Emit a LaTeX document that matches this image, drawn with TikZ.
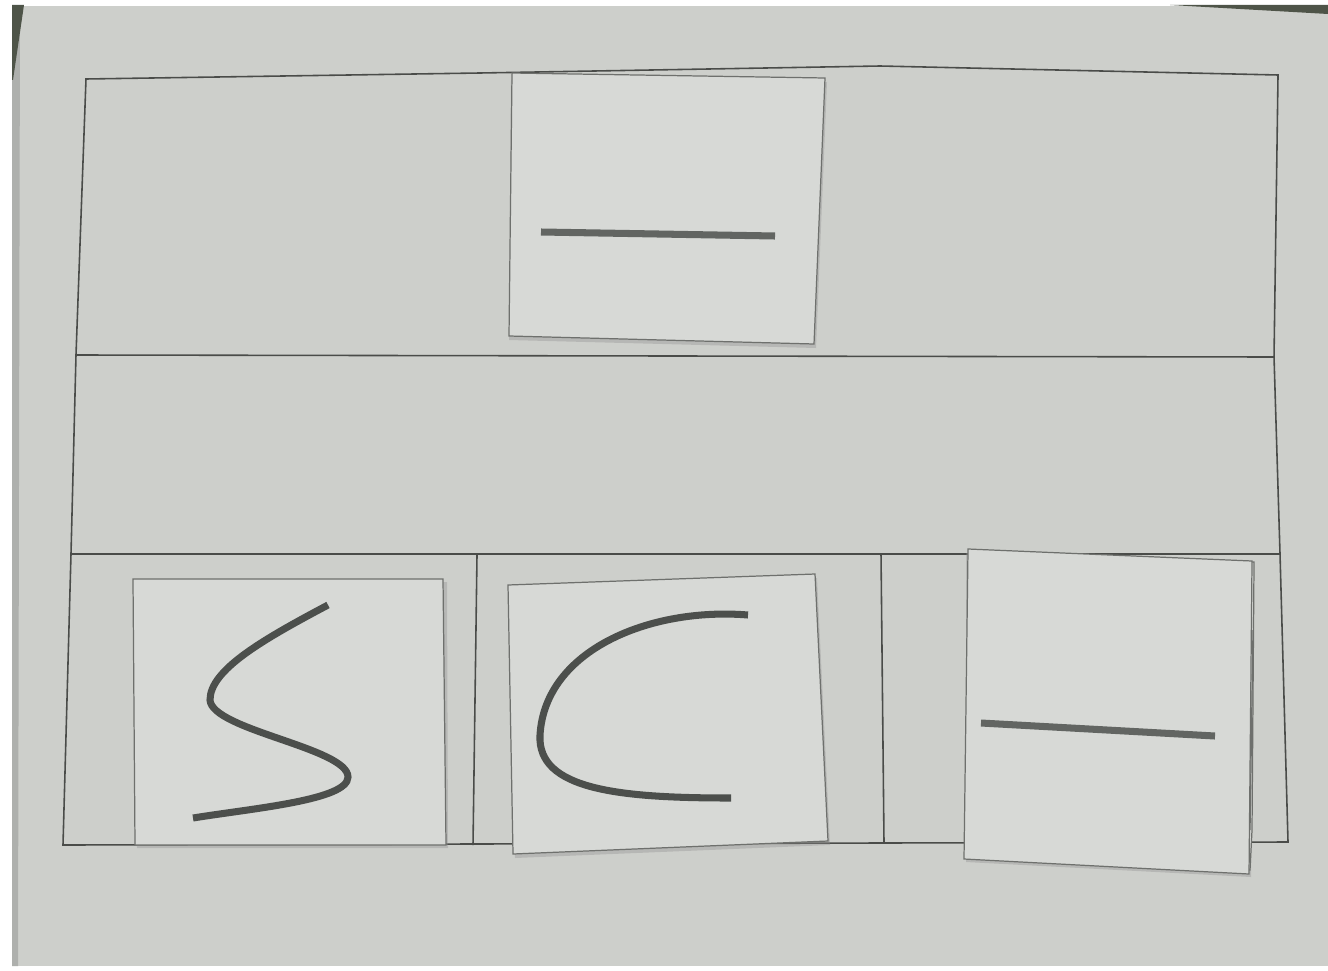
\documentclass[tikz,border=0pt]{standalone}
\usetikzlibrary{calc}
\definecolor{paper}{HTML}{CDCFCB}
\definecolor{cardpaper}{HTML}{D7D9D6}
\definecolor{ink}{HTML}{4A4C49}
\definecolor{marker}{HTML}{4C4F4C}
\definecolor{markerflat}{HTML}{626562}
\definecolor{desk}{HTML}{4E5448}
\tikzset{
  gridline/.style={line width=0.45pt, ink},
  card/.style={fill=cardpaper, draw=ink!80, line width=0.35pt},
  shadow/.style={fill=black!45, opacity=0.35},
  stroke/.style={line width=2pt, marker, line cap=butt},
}

\begin{document}
\begin{tikzpicture}[x=0.01cm, y=-0.01cm]
  \useasboundingbox (0,0) rectangle (1328,970);
  \fill[white] (0,0) rectangle (1328,970);

  % Desk and paper
  \fill[paper] (12,6) -- (1328,6) -- (1328,966) -- (12,966) -- cycle;
  \fill[paper!85!black] (12,6) -- (20,6) -- (18,966) -- (12,966) -- cycle;
  \fill[desk] (12,5) -- (24,5) -- (13,80) -- (12,80) -- cycle;
  \fill[desk] (1170,5) -- (1328,5) -- (1328,14) -- cycle;

  % Outer frame
  \draw[gridline] (86,79) -- (480,73) -- (880,66) -- (1278,75) -- (1274,357)
    -- (1280,554) -- (1288,842) -- (63,845) -- (71,554) -- (76,355) -- cycle;
  % Rows
  \draw[gridline] (76,355) -- (1274,357);
  \draw[gridline] (71,554) -- (1280,554);
  % Columns of the bottom row
  \draw[gridline] (477,555) -- (473,845);
  \draw[gridline] (881,554) -- (884,843);

  % Top card
  \fill[shadow] (511,80) -- (827,82) -- (816,348) -- (509,340) -- cycle;
  \draw[card] (512,73) -- (825,78) -- (814,344) -- (509,336) -- cycle;
  \draw[stroke, markerflat] (541,232) -- (775,236);

  % Card with the S curve
  \fill[shadow] (136,582) -- (447,582) -- (448,848) -- (137,848) -- cycle;
  \draw[card] (133,579) -- (443,579) -- (446,845) -- (135,845) -- cycle;
  \draw[stroke] (328,605) .. controls (262,640) and (210,670) .. (210,700)
    .. controls (212,730) and (348,748) .. (348,777)
    .. controls (348,800) and (255,808) .. (193,818);

  % Card with the C curve
  \fill[shadow] (510,589) -- (817,578) -- (830,845) -- (515,858) -- cycle;
  \draw[card] (508,585) -- (815,574) -- (828,841) -- (513,854) -- cycle;
  \draw[stroke] (748,615) .. controls (650,607) and (545,650) .. (540,735)
    .. controls (537,790) and (620,798) .. (731,798);

  % Right card, with a second sheet beneath
  \fill[shadow] (966,553) -- (1254,565) -- (1251,877) -- (966,862) -- cycle;
  \draw[card] (972,552) -- (1254,562) -- (1252,830) -- (1250,870) -- (968,858) -- cycle;
  \draw[card] (968,549) -- (1252,561) -- (1249,874) -- (964,859) -- cycle;
  \draw[ink!80, line width=0.35pt] (1253,630) -- (1250,830);
  \draw[stroke, markerflat] (981,723) -- (1215,736);
\end{tikzpicture}
\end{document}
